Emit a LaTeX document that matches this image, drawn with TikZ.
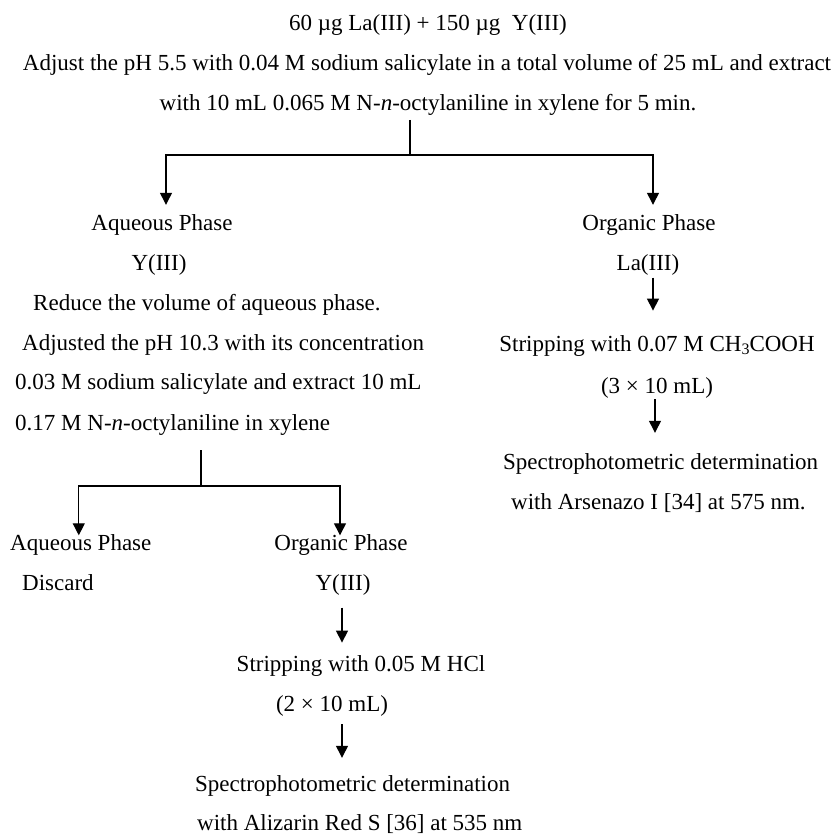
\documentclass[tikz,border=0pt]{standalone}
\usepackage{fontspec}
\setmainfont{Liberation Serif}
\usepackage{tikz}
\usetikzlibrary{positioning}
\usetikzlibrary{arrows.meta}

\begin{document}
\begin{tikzpicture}[x=1pt, y=-1pt,
  txt/.style={inner sep=0pt, text height=15pt, text depth=0pt, font=\fontsize{23}{28}\selectfont},
  line/.style={line width=1.3pt},
  arrow/.style={line width=1.3pt, -{Triangle[length=12pt, width=12pt]}}]
\useasboundingbox (0,0) rectangle (838,834);
% nodes %

\node[txt] (t1) at (428,23) {60 µg La(III) + 150 µg\ \ Y(III)};
\node[txt, below = 25pt of t1, xshift=-1pt] (t2) {Adjust the pH 5.5 with 0.04 M sodium salicylate in a total volume of 25 mL and extract};
\node[txt, below = 24pt of t2, xshift=1pt] (t3) {with 10 mL 0.065 M N-\textit{n}-octylaniline in xylene for 5 min.};

\node[txt] (aq1) at (162,223) {Aqueous Phase};
\node[txt, below = 25pt of aq1, xshift=-3pt] (y1) {Y(III)};
\node[txt, anchor=west] (red) at (33,303) {Reduce the volume of aqueous phase.};
\node[txt, anchor=west] (adj) at (22,343) {Adjusted the pH 10.3 with its concentration};
\node[txt, anchor=west] (sal) at (15,382) {0.03 M sodium salicylate and extract 10 mL};
\node[txt, anchor=west] (oct) at (15,423) {0.17 M N-\textit{n}-octylaniline in xylene};

\node[txt] (org1) at (649,223) {Organic Phase};
\node[txt, below = 25pt of org1, xshift=-1pt] (la) {La(III)};
\node[txt, below = 65pt of la, xshift=9pt] (strip1) {Stripping with 0.07 M CH{\fontsize{16}{16}\selectfont\raisebox{-3pt}{3}}COOH};
\node[txt, below = 27pt of strip1] (vol1) {(3 × 10 mL)};
\node[txt, anchor=west] (spec1) at (503,462) {Spectrophotometric determination};
\node[txt, anchor=west] (ars) at (511,502) {with Arsenazo I [34] at 575 nm.};

\node[txt, anchor=west] (aq2) at (10,543) {Aqueous Phase};
\node[txt, anchor=west] (dis) at (22,583) {Discard};
\node[txt] (org2) at (341,543) {Organic Phase};
\node[txt, below = 25pt of org2, xshift=2pt] (y2) {Y(III)};
\node[txt, below = 65pt of y2, xshift=18pt] (strip2) {Stripping with 0.05 M HCl};
\node[txt, below = 25pt of strip2, xshift=-29pt] (vol2) {(2 × 10 mL)};
\node[txt, anchor=west] (spec2) at (195,784) {Spectrophotometric determination};
\node[txt, anchor=west] (aliz) at (197,823) {with Alizarin Red S [36] at 535 nm};

\coordinate[below = 9.5pt of t3, xshift=-18pt] (top);
\coordinate[below = 35pt of top] (fork);
\coordinate (ltop) at (201,450);
\coordinate (lfork) at (201,486);

% edges %
\draw[line] (top) -- (fork);
\draw[arrow, shorten >=10.5pt] (fork) -| ([xshift=4pt]aq1.north);
\draw[arrow, shorten >=10.5pt] (fork) -| ([xshift=4pt]org1.north);
\draw[arrow, shorten <=6.5pt, shorten >=25.5pt] ([xshift=5pt]la.south) -- ([xshift=5pt]la.south |- strip1.north);
\draw[arrow, shorten <=5.5pt, shorten >=21.5pt] ([xshift=-2pt]vol1.south) -- ([xshift=-2pt]vol1.south |- spec1.north);
\draw[line] (ltop) -- (lfork);
\draw[arrow] (lfork) -| ([xshift=-2pt]aq2.north);
\draw[arrow] (lfork) -| ([xshift=-1pt]org2.north);
\draw[arrow, shorten <=16.5pt, shorten >=13.5pt] ([xshift=-1pt]y2.south) -- ([xshift=-1pt]y2.south |- strip2.north);
\draw[arrow, shorten <=12.5pt, shorten >=18.5pt] ([xshift=10pt]vol2.south) -- ([xshift=10pt]vol2.south |- spec2.north);

\end{tikzpicture}
\end{document}
